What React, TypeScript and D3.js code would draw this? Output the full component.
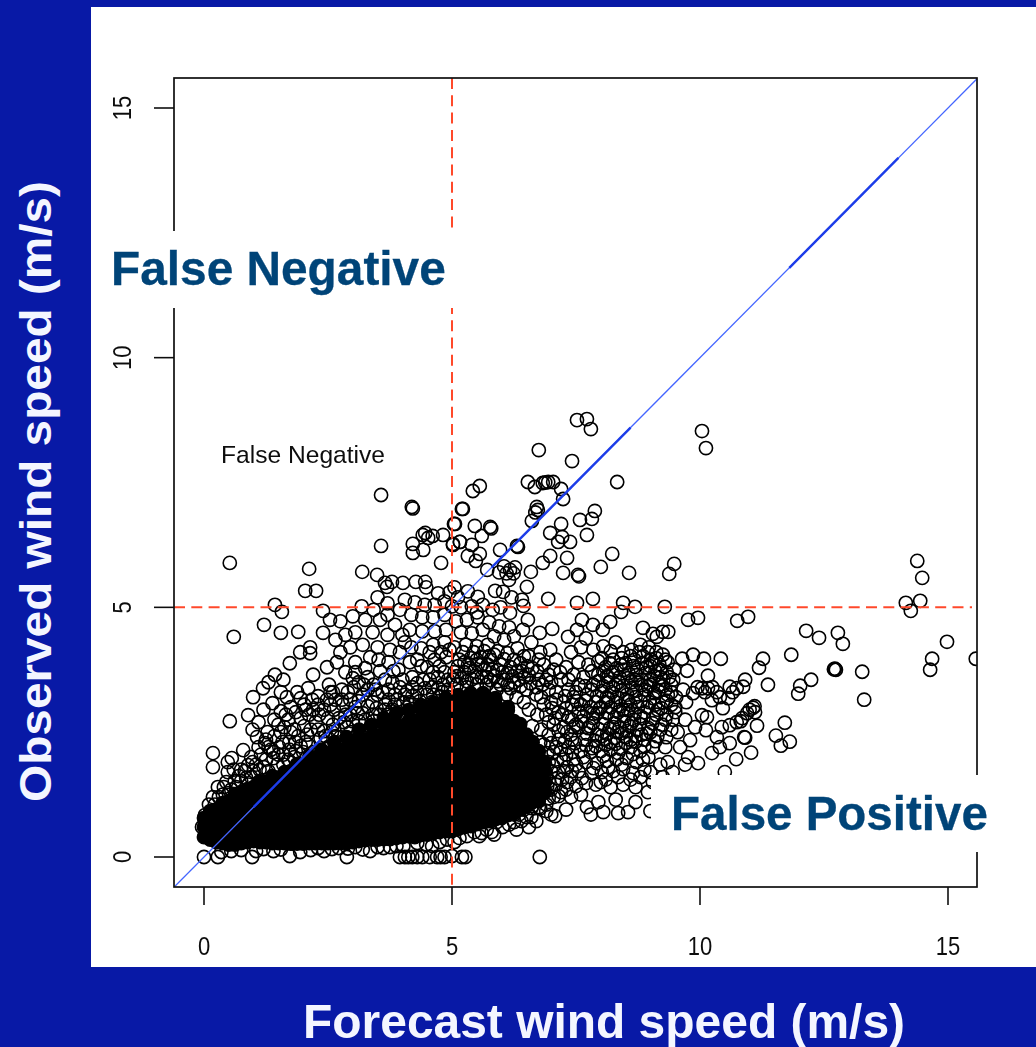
import React from "react";
import * as d3 from "d3";

const xTicks = [0, 5, 10, 15];
const yTicks = [0, 5, 10, 15];
const thresholdX = 5;
const thresholdY = 5;
const heavyDiagonal = [[1, 3.4], [5.8, 8.6], [11.8, 14]];

// isolated points read one by one
const sparsePoints = [
[3.57,7.25],[4.19,7.01],[4.21,6.98],[5.2,6.97],[5.04,6.67],[4.46,6.49],[4.52,6.39],[4.41,6.45],[4.61,6.43],[4.82,6.45],[4.21,6.27],[5.02,6.27],[5.16,6.31],[4.42,6.15],[4.21,6.09],[4.78,5.89],[3.57,6.23],[0.52,5.89],[2.12,5.77],[2.04,5.33],[2.26,5.33],[3.19,5.71],[3.49,5.65],[3.65,5.49],[3.79,5.51],[3.69,5.41],[4.01,5.49],[4.27,5.51],[4.46,5.51],[4.48,5.4],[1.43,5.05],[1.57,4.91],[2.4,4.93],[2.54,4.75],[1.21,4.65],[1.55,4.49],[1.9,4.51],[0.6,4.41],[2.4,4.49],
[7.52,8.75],[7.72,8.77],[7.8,8.57],[10.04,8.53],[10.12,8.19],[6.75,8.15],[7.42,7.93],[6.53,7.51],[6.67,7.41],[6.83,7.49],[6.88,7.5],[6.94,7.51],[7.04,7.51],[7.2,7.37],[7.24,7.17],[8.33,7.51],[5.56,7.43],[5.42,7.33],[5.22,6.97],[6.71,7.01],[6.73,6.95],[6.68,6.9],[6.61,6.73],[7.88,6.93],[7.82,6.77],[7.58,6.75],[7.2,6.67],[6.98,6.49],[7.72,6.45],[7.22,6.41],[7.14,6.31],[7.38,6.31],[5.06,6.67],[5.46,6.63],[5.77,6.61],[5.79,6.58],[5.6,6.43],[5.16,6.31],[5.4,6.25],[5.02,6.25],[5.97,6.15],[6.31,6.23],[6.33,6.21],[5.56,6.07],[5.32,6.03],[5.48,5.93],[6.98,6.03],[6.83,5.89],[7.32,5.99],[8.23,6.07],[8,5.81],[9.48,5.87],[9.38,5.67],[8.57,5.69],[7.24,5.69],[7.54,5.65],[7.56,5.62],[6.59,5.71],[5.71,5.75],[6.05,5.82],[6.17,5.75],[6.24,5.68],[6.1,5.68],[5.95,5.7],[6.27,5.8],[6.15,5.55],[6.03,5.31],[6.51,5.41],[5.87,5.33],[5.52,5.21],[6.41,5.15],[6.44,5.03],[6.94,5.17],[7.52,5.09],[7.84,5.17],[8.45,5.09],[8.41,4.91],[8.69,5.01],[9.29,5.01],[9.76,4.75],[9.96,4.79],[10.75,4.73],[10.97,4.81],[7.62,4.75],[7.84,4.65],[8.19,4.71],[8.04,4.55],[8.85,4.59],[9.25,4.51],[9.13,4.41],[9.05,4.47],[9.36,4.51],[7.02,4.57],[6.77,4.49],[6.17,4.89],[6.53,4.75],[6.43,4.55],[7.34,4.41],[7.52,4.55],[7.7,4.38],
[14.38,5.93],[14.48,5.59],[14.44,5.13],[14.15,5.09],[14.25,4.93],[12.14,4.53],[12.4,4.39],[12.78,4.49],[12.88,4.27],[14.98,4.31],[14.68,3.97],[14.64,3.75],[15.56,3.97],[11.84,4.05],[11.27,3.97],[11.19,3.79],[12.72,3.77],[12.74,3.75],[12.7,3.76],[13.27,3.71],[13.31,3.15],[12.24,3.55],[12.02,3.43],[11.98,3.27],[10.91,3.55],[10.87,3.41],[11.37,3.45],[11.71,2.69],[11.53,2.43],[11.63,2.23],[11.81,2.31],
[0,0],[0.28,0],[0.97,0],[1.73,0.02],[2.88,0],[3.75,0.2],[3.95,0],[4.05,0],[4.12,0],[4.2,0],[4.3,0],[4.4,0],[4.55,0],[4.7,0],[4.77,0],[4.85,0],[5,0.02],[5.2,0],[5.27,0],[6.77,0],[1.94,0.1],[3.35,0.12],[2.58,0.16],[0.35,0.1],[1.05,0.12],[2.9,0.17],[4.6,0.22],[5.05,0.3],[4.9,0.35],
];

// the thinning tail and clusters around the saturated mass
const clusterPoints = [
// right tail
[9.86,4.05],[10.08,3.97],[10.42,3.97],[9.64,3.97],[9.74,3.73],[10.16,3.63],[9.46,3.55],[10.6,3.41],[10.74,3.38],[9.66,3.35],[9.86,3.28],[10.04,3.38],[10.16,3.38],[10.34,3.3],[10.24,3.14],[10.46,2.98],[10.57,3.18],[10.4,3.2],[10.1,3.3],[9.95,3.4],[10.25,3.4],[10.66,3.3],
[10.04,2.84],[10.14,2.8],[10.12,2.54],[10.34,2.4],[10.44,2.6],[10.6,2.64],[10.74,2.7],[10.85,2.78],[10.95,2.88],[11.07,2.99],[11.11,2.9],[11.0,2.95],[11.1,3.02],[10.82,2.72],[11.15,2.63],[10.89,2.4],[10.6,2.28],[10.4,2.2],[10.24,2.08],[10.73,1.96],[11.03,2.09],[10.91,2.39],[10.5,1.7],[9.76,2],[9.96,1.88],[9.35,1.9],[9.7,1.85],[9.8,2.34],[9.6,2.2],[9.9,2.6],[9.55,2.5],[9.7,2.75],[9.5,3.0],[9.72,3.1],[9.45,2.75],[9.3,2.2],[9.2,1.85],[9.45,1.7],[9.05,1.5],[9.25,1.6],[9.85,1.45],[9.55,1.3],
[9.3,1.35],[8.95,1.3],[8.7,1.4],[8.45,1.45],[8.2,1.4],[8.0,1.5],[9.0,0.92],[8.55,0.9],[8.35,0.88],[8.05,0.9],[7.8,0.85],[7.72,1.0],[7.95,1.1],[8.3,1.15],[8.7,1.1],[7.3,0.95],[7.08,0.82],[7,0.85],[6.9,1.05],
// dense right cluster
[8.25,3.95],[8.45,4.1],[8.62,4.15],[8.8,4.25],[8.97,4.2],[9.12,4.1],[9.25,4.05],[9.35,3.9],[8.1,3.8],[8.32,3.78],[8.5,3.88],[8.68,3.95],[8.85,4.02],[9.02,3.95],[9.18,3.85],[9.33,3.7],[9.48,3.75],[7.95,3.65],[8.15,3.6],[8.38,3.6],[8.56,3.68],[8.74,3.75],[8.92,3.8],[9.1,3.72],[9.26,3.55],[9.42,3.45],[7.85,3.45],[8.05,3.42],[8.25,3.4],[8.45,3.42],[8.62,3.5],[8.82,3.55],[9,3.55],[9.18,3.45],[9.35,3.25],[9.52,3.2],[7.72,3.25],[7.92,3.22],[8.12,3.2],[8.33,3.2],[8.53,3.25],[8.72,3.33],[8.9,3.35],[9.08,3.28],[9.25,3.1],[9.42,3.05],[7.6,3.05],[7.8,3],[8,3],[8.2,3],[8.4,3.02],[8.6,3.05],[8.8,3.12],[8.98,3.1],[9.15,2.95],[9.32,2.85],[7.65,2.82],[7.85,2.78],[8.08,2.78],[8.28,2.8],[8.48,2.82],[8.68,2.86],[8.88,2.9],[9.06,2.78],[9.24,2.65],[9.42,2.55],[7.55,2.6],[7.75,2.58],[7.96,2.56],[8.18,2.58],[8.38,2.6],[8.58,2.62],[8.78,2.66],[8.96,2.58],[9.14,2.42],[9.32,2.4],[7.68,2.35],[7.88,2.33],[8.08,2.35],[8.28,2.38],[8.5,2.4],[8.7,2.42],[8.88,2.35],[9.05,2.2],[7.6,2.12],[7.8,2.1],[8,2.12],[8.2,2.15],[8.4,2.17],[8.6,2.2],[8.8,2.12],[8.96,2],[7.7,1.9],[7.92,1.88],[8.12,1.92],[8.32,1.95],[8.52,1.98],[8.72,1.9],[8.88,1.75],[7.55,1.72],[7.82,1.68],[8.02,1.7],[8.25,1.72],[8.45,1.76],[8.65,1.68],[7.7,1.48],[7.6,1.25],[7.4,1.6],[7.3,1.35],
// between the two masses
[7.4,4.1],[7.6,4.2],[7.85,4.15],[8.05,4.22],[8.3,4.3],[7.55,3.9],[7.75,3.85],[7.95,3.92],[7.3,3.8],[7.1,3.95],[7.45,3.65],[7.65,3.6],[7.2,3.55],[7.35,3.35],[7.5,3.3],[7.1,3.3],[7.25,3.1],[7.42,3.05],[7,3.1],[7.15,2.9],[7.35,2.8],[6.9,2.85],[7.05,2.65],[7.25,2.6],[7.4,2.45],[6.95,2.45],[7.15,2.35],[7.35,2.2],[6.85,2.25],[7.05,2.1],[7.25,1.95],[7.45,1.95],[6.95,1.9],[7.15,1.7],[6.75,1.8],[6.9,1.6],[7.1,1.45],[6.7,1.45],[6.85,1.28],[7.05,1.2],[6.6,1.2],[6.45,0.95],[6.25,0.85],[6.6,0.8],[6.4,0.72],[6.15,0.65],[5.9,0.7],[5.7,0.55],[5.45,0.5],[6.75,1.0],[6.55,1.38],[6.68,1.62],[6.52,1.72],[6.72,2.05],[6.6,2.3],[6.8,2.55],[6.62,2.62],[6.72,2.85],[6.55,2.95],[6.85,3.05],[6.7,3.25],[6.45,3.1],[6.95,3.35],
// above the first mass, right of the threshold
[5.1,3.45],[5.3,3.4],[5.5,3.45],[5.7,3.45],[5.9,3.35],[6.1,3.25],[6.3,3.2],[6.5,3.35],[6.75,3.55],[6.95,3.65],[5.05,3.7],[5.25,3.7],[5.45,3.72],[5.65,3.75],[5.85,3.62],[6.05,3.55],[6.25,3.5],[6.45,3.6],[6.62,3.78],[6.85,3.85],[7.05,3.75],[5.15,3.95],[5.38,3.98],[5.58,4],[5.78,3.95],[5.98,3.85],[6.18,3.8],[6.38,3.88],[6.55,4.02],[6.78,4.1],[6.98,4.15],[5.05,4.2],[5.28,4.25],[5.5,4.22],[5.72,4.25],[5.92,4.12],[6.12,4.08],[6.32,4.18],[6.6,4.3],[5.18,4.5],[5.4,4.48],[5.62,4.55],[5.85,4.42],[6.05,4.35],[6.25,4.42],[5.08,4.72],[5.3,4.75],[5.52,4.8],[5.75,4.7],[5.95,4.62],[6.15,4.6],[5.18,5],[5.4,5.02],[5.62,5.05],[5.82,4.95],[5.98,5],[6.2,5.2],[5.12,5.2],[5.32,5.32],[5.5,4.9],[5.05,5.4],
// above the first mass, left of the threshold
[0.1,1.05],[0.18,1.2],[0.28,1.4],[0.38,1.25],[0.48,1.7],[0.45,1.5],[0.65,1.4],[0.7,1.62],[0.56,1.98],[0.18,1.8],[0.18,2.08],[0.79,2.14],[0.89,1.84],[0.52,2.72],[0.02,0.84],[-0.04,0.6],[0.89,2.84],[0.99,3.2],[1.19,3.38],[1.43,3.65],[1.73,3.88],[1.3,3.5],[1.67,3.2],[1.07,2.4],[1.23,2.28],[0.98,2.55],[1.1,2.7],[2.2,3.65],[1.94,4.1],[2.14,4.2],[2.14,4.08],[2.48,3.8],[2.68,3.9],[3,3.58],[0.95,1.6],[1.05,1.85],[1.15,2.05],[0.9,1.45],[1.3,1.72],[1.4,1.98],[1.52,2.2],[1.28,2.5],[1.42,2.75],[1.2,2.95],[1.38,3.08],[1.55,2.92],[1.62,2.6],[1.72,2.3],[1.6,1.85],[1.82,2.0],[1.95,2.22],[1.82,2.55],[1.95,2.78],[1.75,3.0],[1.88,3.3],[1.55,3.3],[1.6,3.55],[2.02,3.05],[2.08,2.45],[2.2,2.1],[2.25,2.7],[2.35,2.38],[2.2,2.95],[2.42,2.95],[2.3,3.22],[2.1,3.38],[2.52,3.45],[2.6,2.65],[2.5,2.2],[2.75,2.4],[2.85,2.85],[2.65,3.15],[2.9,3.3],[2.85,3.7],[2.75,4.1],[2.95,2.5],[3.12,2.72],[3.05,3],[3.2,3.25],[3.12,3.5],[3.25,3.78],[3.05,3.9],[2.95,4.2],[3.25,2.5],[3.4,2.85],[3.55,2.6],[3.4,3.1],[3.6,3.3],[3.42,3.45],[3.55,3.72],[3.35,4],[3.2,4.25],[3.05,4.5],[2.85,4.45],[2.65,4.35],[2.75,4.72],[3.5,4.2],[3.4,4.5],[3.25,4.75],[3,4.82],[3.18,5.02],[3.7,2.85],[3.85,3.05],[3.72,3.15],[3.95,3.4],[3.8,3.5],[3.72,3.9],[3.92,3.75],[3.75,4.15],[3.95,4.1],[3.7,4.45],[3.55,4.75],[3.42,4.95],[3.7,4.85],[3.85,4.65],[4,4.45],[4,2.85],[4.15,3.1],[4.32,2.95],[4.1,3.32],[4.3,3.3],[4.2,3.6],[4.42,3.55],[4.15,3.9],[4.38,3.82],[4.18,4.2],[4.38,4.18],[4.15,4.55],[4.4,4.52],[3.95,4.95],[4.18,4.85],[4.4,4.8],[4.6,3.1],[4.75,3.22],[4.92,3.2],[4.6,3.4],[4.82,3.45],[4.62,3.7],[4.85,3.7],[4.65,3.95],[4.88,4],[4.62,4.25],[4.85,4.3],[4.65,4.52],[4.88,4.55],[4.62,4.8],[4.85,4.85],[4.05,5.15],[4.25,5.1],[4.45,5.05],[4.65,5.05],[4.85,5.12],[4.95,5.3],[5,5.02],[4.72,5.28],[3.7,5.08],[3.5,5.2],
];

// rings lying in the gaps of the dark areas
const overlapPoints = [
[8.18,3.88],[8.42,3.98],[8.6,4.02],[8.78,4.1],[8.95,4.1],[9.12,3.98],[9.3,3.95],[8.05,3.72],[8.25,3.7],[8.47,3.75],[8.65,3.82],[8.83,3.88],[9,3.82],[9.2,3.75],[9.38,3.6],[7.95,3.52],[8.15,3.5],[8.36,3.5],[8.54,3.58],[8.72,3.64],[8.9,3.68],[9.08,3.62],[9.25,3.42],[7.82,3.35],[8.02,3.32],[8.22,3.3],[8.42,3.33],[8.62,3.38],[8.82,3.45],[9,3.45],[9.16,3.32],[9.33,3.13],[7.7,3.13],[7.9,3.1],[8.1,3.1],[8.3,3.1],[8.5,3.14],[8.7,3.2],[8.88,3.25],[9.06,3.18],[9.22,2.98],[7.72,2.92],[7.93,2.88],[8.14,2.88],[8.35,2.9],[8.55,2.94],[8.75,3],[8.94,3],[9.12,2.85],[9.3,2.75],[7.62,2.72],[7.84,2.68],[8.05,2.66],[8.27,2.68],[8.47,2.72],[8.67,2.75],[8.86,2.78],[9.04,2.68],[9.2,2.55],[7.72,2.47],[7.92,2.45],[8.13,2.47],[8.33,2.5],[8.53,2.52],[8.73,2.54],[8.92,2.47],[9.1,2.32],[7.7,2.24],[7.9,2.22],[8.1,2.25],[8.3,2.27],[8.5,2.29],[8.7,2.31],[8.88,2.22],
[5.02,3.55],[5.2,3.58],[5.4,3.56],[5.6,3.6],[5.78,3.54],[5.98,3.45],[6.18,3.38],[6.38,3.42],[6.58,3.48],[6.82,3.45],[5.12,3.82],[5.32,3.84],[5.52,3.86],[5.72,3.85],[5.92,3.74],[6.12,3.68],[6.32,3.72],[6.52,3.82],[6.75,3.95],[5.22,4.1],[5.44,4.1],[5.65,4.12],[5.85,4.05],[6.05,3.96],[6.25,3.95],[6.45,4.02],
[6.8,3.2],[7,3.5],[7.18,3.7],[7.35,3.55],[7.55,3.45],[7.28,3.22],[7.45,3.2],[7.02,2.98],[7.22,2.85],[7.42,2.75],[7.55,2.9],[6.95,2.7],[7.15,2.52],[7.32,2.5],[7.48,2.28],[7,2.28],[7.2,2.15],[7.42,2.1],[6.92,2.08],[7.12,1.92],[7.32,1.8],[7.5,1.85],[7,1.72],[7.22,1.55],[6.82,1.45],[7,1.35],[7.2,1.3],[6.95,1.18],[6.72,1.18],[6.6,0.98],[6.35,0.85],[6.78,2.3],[6.85,1.9],[6.62,1.85],
[0.55,1.35],[0.75,1.52],[0.6,1.75],[0.82,1.72],[1,1.72],[1.2,1.8],[0.95,2],[1.1,2.2],[1.35,2.15],[1.48,1.85],[1.25,2.35],[1.42,2.42],[1.6,2.05],[1.72,2.15],[1.55,2.5],[1.7,2.75],[1.85,2.3],[2,2.1],[2.1,2.25],[2.02,2.62],[2.12,2.85],[2.35,2.15],[2.42,2.52],[2.5,2.78],[2.32,2.85],[2.55,3.05],[2.65,2.42],[2.72,2.78],[2.62,2.95],[2.8,3.05],[2.88,2.6],[3,2.72],[2.95,3.15],[3.12,3.12],[3.2,2.88],[3.3,3.02],[3.3,3.35],[3.48,2.98],[3.5,3.25],[3.65,3.05],[3.72,3.35],[3.85,3.25],[3.65,3.55],[3.82,3.72],[4.02,3.1],[4,3.55],[4.2,3.22],[4.35,3.12],[4.3,3.48],[4.5,3.25],[4.55,3.55],[4.72,3.38],[4.92,3.35],[4.72,3.6],[4.92,3.55],[4.5,3.8],[4.75,3.82],[4.3,3.95],[2.55,3.3],[2.18,3.15],[1.95,3.18],[2.78,3.35],[3.05,3.7],[3.3,3.6],[3.52,3.95],[4.05,4.3],[4.55,4.1],[4.78,4.1],[4.95,4.15],
];

// further rings off the rows of the dark areas and along the lower edge
const edgePoints = [
[8.12,3.62],[8.4,3.85],[8.7,3.55],[8.95,3.42],[9.2,3.6],[9.05,3.9],[8.3,3.45],[8.55,3.12],[8.15,3.17],[7.98,2.97],[8.45,2.95],[8.8,2.82],[9.1,3.05],[9.3,3.35],[8.62,2.68],[8.25,2.6],[7.85,2.87],[7.78,2.62],[8.02,2.42],[8.42,2.48],[8.82,2.45],[9,2.5],[8.6,2.35],[8.2,2.3],[7.82,2.18],[8.05,2.02],[8.35,2.08],[8.65,2.06],[8.85,1.95],[8.42,1.85],[8.15,1.8],[7.85,1.78],[7.65,2],[7.62,1.58],[7.9,1.45],[8.1,1.55],[8.35,1.6],[8.6,1.55],[8.8,1.6],[9,1.7],[7.45,2.6],[7.52,3.12],[7.68,3.42],[7.82,3.72],[8.02,3.98],[8.2,4.12],[9.42,3.3],[9.5,2.9],
[7.1,3.15],[7.3,2.98],[7.5,2.65],[7.08,2.78],[7.28,2.32],[7.1,2.2],[7.42,2.35],[7.3,2.05],[7.05,1.82],[7.25,1.72],[7.42,1.72],[6.95,1.52],[7.12,1.58],[7.32,1.5],[6.92,1.42],[7.15,1.22],[7.4,1.2],[7.5,1.42],[6.78,0.98],[6.62,1.02],[6.9,0.92],[6.5,0.8],[6.25,0.7],[6.02,0.6],[5.8,0.5],[5.6,0.48],
[5.3,3.52],[5.5,3.6],[5.7,3.6],[5.92,3.52],[6.12,3.45],[6.35,3.55],[6.55,3.65],[6.7,3.4],[6.9,3.55],[5.1,3.62],[5.35,3.78],[5.6,3.85],[5.82,3.75],[6.02,3.7],[6.22,3.62],[6.42,3.72],[6.72,3.72],[5.25,3.9],[5.5,3.95],[5.75,4.02],
[0.3,1.2],[0.4,1.4],[0.22,1.05],[0.5,1.28],[0.62,1.52],[0.85,1.58],[0.75,1.75],[0.48,1.9],[0.98,1.9],[1.12,1.75],[1.25,1.95],[1.4,2.1],[1.5,2.05],[1.7,1.95],[1.85,2.12],[1.3,2.2],[1.58,2.3],[1.75,2.5],[1.9,2.42],[2.05,2.3],[2.15,2.55],[2.3,2.55],[2.45,2.42],[2.58,2.5],[2.7,2.55],[2.82,2.7],[2.95,2.85],[3.1,2.88],[3.25,2.75],[3.42,2.72],[3.55,2.85],[3.65,2.95],[3.8,2.95],[3.9,3.15],[4.05,3.25],[4.2,3.4],[4.15,3.05],[4.45,3.38],[4.62,3.25],[4.8,3.3],[3.45,3.35],[3.22,3.45],[3.02,3.4],[2.78,3.15],[2.48,3.15],[2.6,3.3],[2.3,3.05],[2.05,2.95],[1.85,2.9],[1.65,2.85],[1.5,2.65],
[0.55,0.12],[0.75,0.14],[1.2,0.16],[1.4,0.12],[1.55,0.15],[2.15,0.14],[2.3,0.18],[2.42,0.12],[2.72,0.18],[3.05,0.2],[3.2,0.15],[3.5,0.2],[3.62,0.18],[3.88,0.22],[4.02,0.22],[4.3,0.28],[4.48,0.25],[4.75,0.3],[5.15,0.38],[5.3,0.42],[5.55,0.42],[5.85,0.45],[6.3,0.55],[6.55,0.6],[6.7,0.72],
];

// columns of the fully saturated mass, where the overlapping rings merge to solid black
const coreX = [0,0.125,0.25,0.375,0.5,0.625,0.75,0.875,1,1.125,1.25,1.375,1.5,1.625,1.75,1.875,2,2.125,2.25,2.375,2.5,2.625,2.75,2.875,3,3.125,3.25,3.375,3.5,3.625,3.75,3.875,4,4.125,4.25,4.375,4.5,4.625,4.75,4.875,5,5.125,5.25,5.375,5.5,5.625,5.75,5.875,6,6.125,6.25,6.375,6.5,6.625,6.75,6.875];
const coreY = [
[0.4,0.6,0.78],
[0.35,0.52,0.72,0.92],
[0.3,0.5,0.72,0.95],
[0.28,0.42,0.62,0.84,1.08],
[0.25,0.45,0.68,0.9,1.12],
[0.25,0.4,0.6,0.82,1.04,1.26],
[0.28,0.5,0.72,0.94,1.16,1.3],
[0.3,0.42,0.62,0.84,1.06,1.28,1.36],
[0.32,0.55,0.78,1,1.22,1.4],
[0.3,0.44,0.66,0.88,1.1,1.32,1.52],
[0.3,0.52,0.74,0.96,1.18,1.4,1.5],
[0.28,0.42,0.64,0.86,1.08,1.3,1.52,1.62],
[0.28,0.5,0.72,0.94,1.16,1.38,1.58],
[0.28,0.4,0.62,0.84,1.06,1.28,1.5,1.7],
[0.27,0.5,0.72,0.94,1.16,1.38,1.6,1.72],
[0.27,0.4,0.62,0.84,1.06,1.28,1.5,1.72,1.86],
[0.27,0.48,0.7,0.92,1.14,1.36,1.58,1.8],
[0.28,0.4,0.62,0.84,1.06,1.28,1.5,1.72,1.94,2.02],
[0.28,0.52,0.74,0.96,1.18,1.4,1.62,1.84,1.95],
[0.28,0.42,0.64,0.86,1.08,1.3,1.52,1.74,1.96,2.14],
[0.28,0.48,0.7,0.92,1.14,1.36,1.58,1.8,2.02],
[0.28,0.4,0.62,0.84,1.06,1.28,1.5,1.72,1.94,2.16,2.3],
[0.28,0.52,0.74,0.96,1.18,1.4,1.62,1.84,2.06,2.15],
[0.28,0.42,0.64,0.86,1.08,1.3,1.52,1.74,1.96,2.18,2.4],
[0.3,0.48,0.7,0.92,1.14,1.36,1.58,1.8,2.02,2.24],
[0.32,0.42,0.62,0.84,1.06,1.28,1.5,1.72,1.94,2.16,2.38,2.55],
[0.34,0.54,0.76,0.98,1.2,1.42,1.64,1.86,2.08,2.3],
[0.35,0.46,0.66,0.88,1.1,1.32,1.54,1.76,1.98,2.2,2.42,2.64],
[0.35,0.52,0.74,0.96,1.18,1.4,1.62,1.84,2.06,2.28,2.42],
[0.36,0.46,0.68,0.9,1.12,1.34,1.56,1.78,2,2.22,2.44,2.66,2.78],
[0.36,0.58,0.8,1.02,1.24,1.46,1.68,1.9,2.12,2.34,2.52],
[0.38,0.48,0.7,0.92,1.14,1.36,1.58,1.8,2.02,2.24,2.46,2.68,2.88],
[0.4,0.56,0.78,1,1.22,1.44,1.66,1.88,2.1,2.32,2.54,2.62],
[0.42,0.52,0.74,0.96,1.18,1.4,1.62,1.84,2.06,2.28,2.5,2.72,2.94],
[0.4,0.62,0.84,1.06,1.28,1.5,1.72,1.94,2.16,2.38,2.6,2.72],
[0.44,0.54,0.76,0.98,1.2,1.42,1.64,1.86,2.08,2.3,2.52,2.74,2.96,3.04],
[0.45,0.66,0.88,1.1,1.32,1.54,1.76,1.98,2.2,2.42,2.64,2.82],
[0.48,0.58,0.8,1.02,1.24,1.46,1.68,1.9,2.12,2.34,2.56,2.78,3,3.08],
[0.5,0.72,0.94,1.16,1.38,1.6,1.82,2.04,2.26,2.48,2.7,2.92],
[0.52,0.62,0.84,1.06,1.28,1.5,1.72,1.94,2.16,2.38,2.6,2.82,3.04,3.18],
[0.52,0.74,0.96,1.18,1.4,1.62,1.84,2.06,2.28,2.5,2.72,2.94,3.05],
[0.56,0.68,0.9,1.12,1.34,1.56,1.78,2,2.22,2.44,2.66,2.88,3.1,3.24],
[0.6,0.82,1.04,1.26,1.48,1.7,1.92,2.14,2.36,2.58,2.8,3.02],
[0.62,0.74,0.96,1.18,1.4,1.62,1.84,2.06,2.28,2.5,2.72,2.94,3.16,3.28],
[0.66,0.86,1.08,1.3,1.52,1.74,1.96,2.18,2.4,2.62,2.84,3.06],
[0.7,0.8,1.02,1.24,1.46,1.68,1.9,2.12,2.34,2.56,2.78,3,3.2,3.28],
[0.72,0.92,1.14,1.36,1.58,1.8,2.02,2.24,2.46,2.68,2.9,3.1],
[0.76,0.86,1.08,1.3,1.52,1.74,1.96,2.18,2.4,2.62,2.84,3.06,3.18],
[0.78,0.98,1.2,1.42,1.64,1.86,2.08,2.3,2.52,2.74,2.92],
[0.84,0.96,1.18,1.4,1.62,1.84,2.06,2.28,2.5,2.72,2.94,3],
[0.88,1.06,1.28,1.5,1.72,1.94,2.16,2.38,2.6,2.72],
[0.95,1.12,1.34,1.56,1.78,2,2.22,2.44,2.66],
[1.02,1.24,1.46,1.68,1.9,2.12,2.34,2.45],
[1.1,1.3,1.52,1.74,1.96,2.18,2.3],
[1.12,1.34,1.56,1.78,2,2.12],
[1.3,1.5,1.72,1.88],
];

const xScale = d3.scaleLinear().domain([0, 15]).range([204, 948]);
const yScale = d3.scaleLinear().domain([0, 15]).range([857, 108]);
const xDomainLo = xScale.invert(174);
const xDomainHi = xScale.invert(977);

const BG = "#0819a6";
const LABEL = "#004478";
const SANS = "'Liberation Sans', Arial, sans-serif";
const R = 6.6;

export default function App() {
  const corePoints = coreX.flatMap((x, i) => coreY[i].map((y) => [x, y]));
  const rings = [...clusterPoints, ...overlapPoints, ...edgePoints, ...sparsePoints];
  const diag = d3.line().x((d) => xScale(d[0])).y((d) => yScale(d[1]));
  return (
    <svg width={1036} height={1047} viewBox="0 0 1036 1047" style={{ position: "absolute", left: 0, top: 0 }}>
      <defs>
        <clipPath id="plot"><rect x={174} y={78} width={803} height={809} /></clipPath>
        <filter id="soft"><feGaussianBlur stdDeviation="0.35" /></filter>
      </defs>
      <rect width={1036} height={1047} fill={BG} />
      <rect x={91} y={7} width={945} height={960} fill="#fff" />
      <g filter="url(#soft)">
        <g clipPath="url(#plot)">
          <g fill="#000" stroke="#000" strokeWidth={1.6}>
            {corePoints.map((d, i) => <circle key={i} cx={xScale(d[0])} cy={yScale(d[1])} r={R} />)}
          </g>
          <g fill="none" stroke="#000" strokeWidth={1.6}>
            {rings.map((d, i) => <circle key={i} cx={xScale(d[0])} cy={yScale(d[1])} r={R} />)}
          </g>
          <path d={diag([[xDomainLo, xDomainLo], [xDomainHi, xDomainHi]])} stroke="#4466ff" strokeWidth={1.3} fill="none" />
          {heavyDiagonal.map((s, i) => (
            <path key={i} d={diag([[s[0], s[0]], [s[1], s[1]]])} stroke="#1c3ce8" strokeWidth={2.4} fill="none" />
          ))}
          <line x1={xScale(thresholdX)} x2={xScale(thresholdX)} y1={78} y2={887} stroke="#ff4a2c" strokeWidth={2} strokeDasharray="11 6.3" />
          <line x1={174} x2={972} y1={yScale(thresholdY)} y2={yScale(thresholdY)} stroke="#ff4a2c" strokeWidth={2} strokeDasharray="11 6.3" />
        </g>
        <rect x={174} y={78} width={803} height={809} fill="none" stroke="#111" strokeWidth={1.7} />
        {xTicks.map((t) => (
          <g key={t}>
            <line x1={xScale(t)} x2={xScale(t)} y1={887} y2={905} stroke="#111" strokeWidth={1.6} />
            <text transform={`translate(${xScale(t)},955) scale(0.88,1)`} textAnchor="middle" fontFamily={SANS} fontSize={25} fill="#111">{t}</text>
          </g>
        ))}
        {yTicks.map((t) => (
          <g key={t}>
            <line x1={154} x2={174} y1={yScale(t)} y2={yScale(t)} stroke="#111" strokeWidth={1.6} />
            <text transform={`translate(131,${yScale(t)}) rotate(-90) scale(0.88,1)`} textAnchor="middle" fontFamily={SANS} fontSize={25} fill="#111">{t}</text>
          </g>
        ))}
        <text x={221} y={463} fontFamily={SANS} fontSize={24.6} fill="#111">False Negative</text>
      </g>
      <rect x={91} y={231} width={364} height={77} fill="#fff" />
      <rect x={651} y={775} width={385} height={77} fill="#fff" />
      <text x={111} y={285} fontFamily={SANS} fontWeight="bold" fontSize={47.8} fill={LABEL} stroke={LABEL} strokeWidth={0.3}>False Negative</text>
      <text x={671} y={830} fontFamily={SANS} fontWeight="bold" fontSize={47.5} fill={LABEL} stroke={LABEL} strokeWidth={0.3}>False Positive</text>
      <text x={303} y={1038} fontFamily={SANS} fontWeight="bold" fontSize={48} fill="#f4f6ff" textLength={602} lengthAdjust="spacingAndGlyphs">Forecast wind speed (m/s)</text>
      <text transform="translate(51,802) rotate(-90)" fontFamily={SANS} fontWeight="bold" fontSize={45} fill="#f4f6ff" textLength={621} lengthAdjust="spacingAndGlyphs">Observed wind speed (m/s)</text>
    </svg>
  );
}
